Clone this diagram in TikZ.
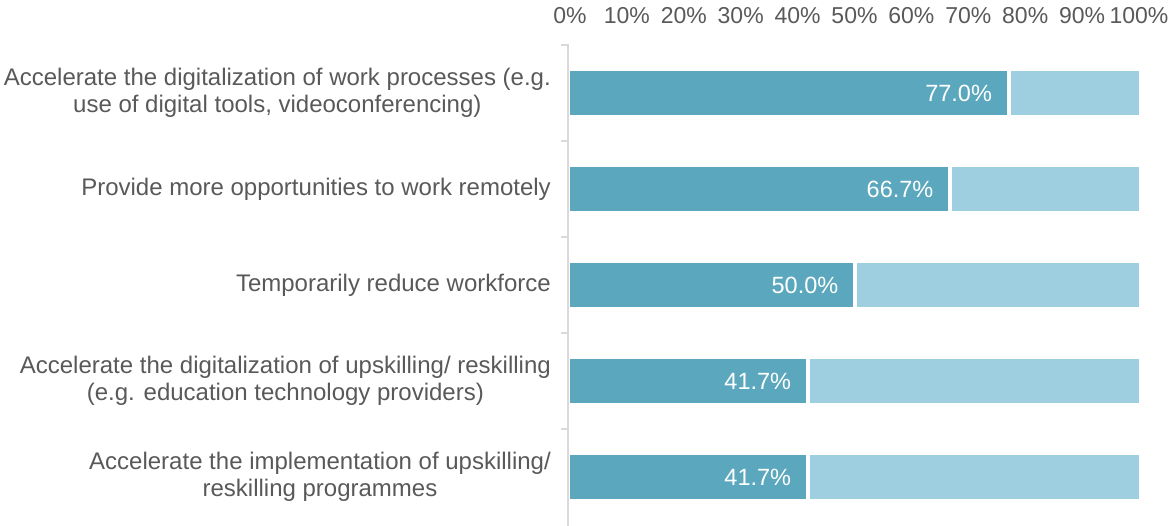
\documentclass[tikz,border=0pt]{standalone}
\usepackage{fontspec}
\setmainfont{Liberation Sans}
\definecolor{darkbar}{HTML}{5BA7BD}
\definecolor{lightbar}{HTML}{9DCFE0}
\definecolor{txtgray}{HTML}{595959}
\definecolor{axisgray}{HTML}{D9D9D9}
\begin{document}
\begin{tikzpicture}[x=1pt,y=-1pt,
  catlbl/.style={text=txtgray,font=\fontsize{24}{27}\selectfont,align=center,anchor=east,inner sep=0pt},
  vallbl/.style={text=white,font=\fontsize{23.5}{27}\selectfont,anchor=east,inner sep=0pt},
  axlbl/.style={text=txtgray,font=\fontsize{23}{27}\selectfont,anchor=center,inner sep=0pt},
  axisline/.style={draw=axisgray,line width=2pt},
  darkfill/.style={fill=darkbar},
  lightfill/.style={fill=lightbar}]
\useasboundingbox (0,0) rectangle (1174,526);
% axis labels
\foreach \i in {0,...,10}{
  \pgfmathsetmacro{\xx}{570+56.9*\i}
  \ifnum\i=0
    \node[axlbl] (ax\i) at (\xx,16) {0\%};
  \else
    \node[axlbl] (ax\i) at (\xx,16) {\i0\%};
  \fi
}
% vertical axis
\draw[axisline] (561,45) -- (568,45) -- (568,526);
\foreach \y in {141,237,333,429}{
  \draw[axisline] (561,\y) -- (568,\y);
}
% bars
\foreach \n/\yc/\v/\t in {1/93/77.0/77.0\%,2/189/66.7/66.7\%,3/285/50.0/50.0\%,4/381/41.7/41.7\%,5/477/41.7/41.7\%}{
  \pgfmathsetmacro{\xe}{570+5.69*\v}
  \fill[darkfill] (570,\yc-22) rectangle (\xe-1.5,\yc+22);
  \fill[lightfill] (\xe+2.5,\yc-22) rectangle (1139,\yc+22);
  \node[vallbl] (v\n) at (\xe-16,\yc) {\t};
}
% category labels
\node[catlbl] (c1) at (551,93) {Accelerate the digitalization of work processes (e.g.\\use of digital tools, videoconferencing)};
\node[catlbl] (c2) at (551,189) {Provide more opportunities to work remotely};
\node[catlbl] (c3) at (551,285) {Temporarily reduce workforce};
\node[catlbl] (c4) at (551,381) {Accelerate the digitalization of upskilling/ reskilling\\(e.g. education technology providers)};
\node[catlbl] (c5) at (551,477) {Accelerate the implementation of upskilling/\\reskilling programmes};
\end{tikzpicture}
\end{document}
